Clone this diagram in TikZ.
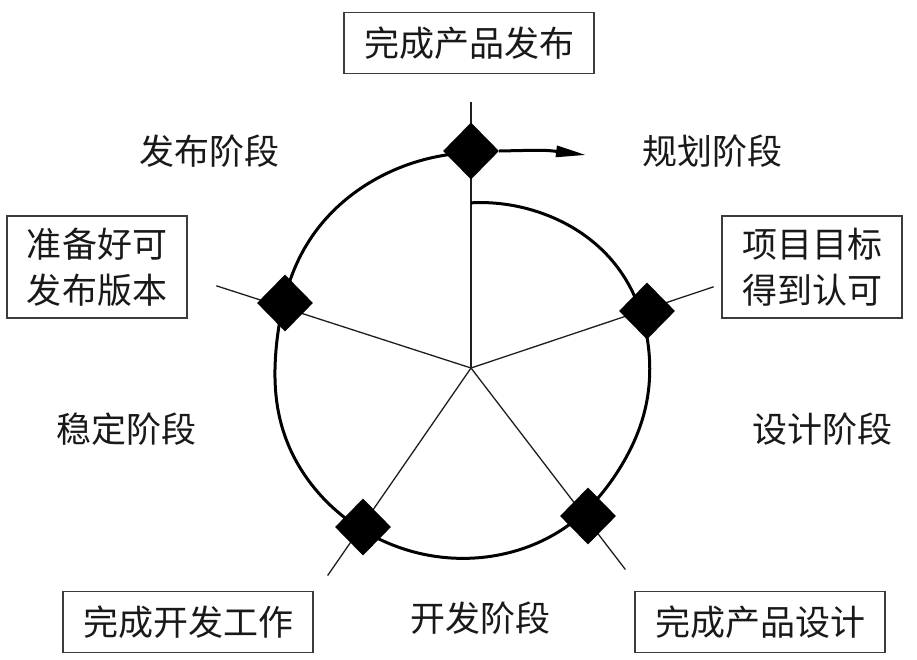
\documentclass[tikz,border=0pt]{standalone}
\usepackage{fontspec}
\newfontfamily\cjk{Noto Sans CJK SC}
\usetikzlibrary{shapes.geometric,arrows.meta}
\begin{document}
\begin{tikzpicture}[x=1pt,y=-1pt,line cap=rect,
  declare function={spr(\t)=165+0.14*\t+5*exp(-((\t-55)/30)^2)-3*exp(-((\t-125)/20)^2)-8*exp(-((\t-280)/25)^2);},
  spoke/.style={line width=1.3pt, custcol_spoke},
  spiral/.style={line width=3pt, line cap=butt, black},
  gate/.style={diamond, fill=black, inner sep=0pt, minimum width=56pt, minimum height=57pt},
  phase/.style={font=\cjk\fontsize{35pt}{46pt}\selectfont, text=custcol_text, inner sep=0pt},
  milestone/.style={draw=custcol_box, line width=1.5pt, font=\cjk\fontsize{35pt}{46pt}\selectfont, text=custcol_text, align=center, inner xsep=20pt, inner ysep=12pt, minimum height=61pt}]
\definecolor{custcol_spoke}{RGB}{30, 30, 30}
\definecolor{custcol_box}{RGB}{60, 60, 60}
\definecolor{custcol_text}{RGB}{25, 25, 25}
\useasboundingbox (0,0) rectangle (917,659);
% hub and spokes
\coordinate (hub) at (471,368);
\coordinate (rayA) at (471,103);
\coordinate (rayB) at (713,287);
\coordinate (rayC) at (625,569);
\coordinate (rayD) at (328,575);
\coordinate (rayE) at (217,286);
\draw [spoke] (hub) -- (rayA);
\draw [spoke] (hub) -- (rayB);
\draw [spoke] (hub) -- (rayC);
\draw [spoke] (hub) -- (rayD);
\draw [spoke] (hub) -- (rayE);
% spiral, clockwise from inside the top spoke
\begin{scope}[shift={(hub)}]
\draw [spiral] plot [domain=0:360, samples=121, smooth] ({spr(\x)*sin(\x)}, {-spr(\x)*cos(\x)});
\end{scope}
\coordinate (tipA) at (586,155);
% milestones
\node [gate] (gA) at (471,151) {};
\node [gate] (gB) at (647,311) {};
\node [gate] (gC) at (588,516) {};
\node [gate] (gD) at (363,527) {};
\node [gate] (gE) at (285,303) {};
\draw [spiral, -{Triangle[length=30pt, width=11pt]}] (gA.east) .. controls (545,150) .. (tipA);
% milestone boxes
\node [milestone] (mA) at (469,43) {完成产品发布};
\node [milestone] (mB) at (812,267) {项目目标\\得到认可};
\node [milestone] (mC) at (760,622) {完成产品设计};
\node [milestone] (mD) at (188,622) {完成开发工作};
\node [milestone] (mE) at (97,267) {准备好可\\发布版本};
% phase labels
\node [phase] (pA) at (712,151) {规划阶段};
\node [phase] (pB) at (822,429) {设计阶段};
\node [phase] (pC) at (480,618) {开发阶段};
\node [phase] (pD) at (126,429) {稳定阶段};
\node [phase] (pE) at (209,151) {发布阶段};
\end{tikzpicture}
\end{document}
